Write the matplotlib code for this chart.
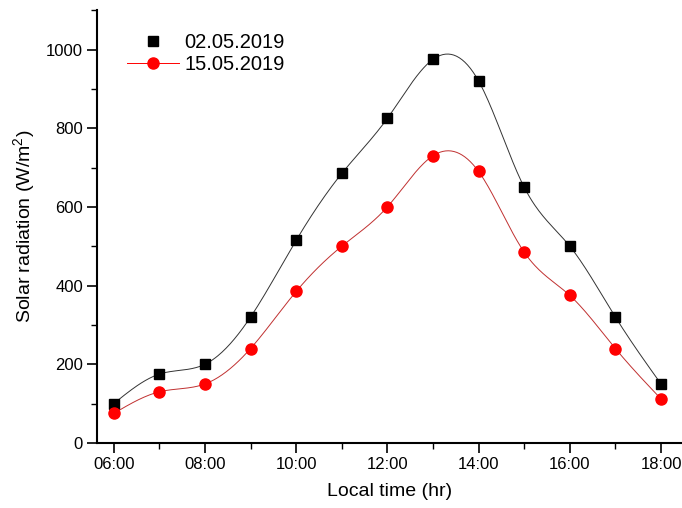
import numpy as np
import matplotlib
matplotlib.use('Agg')
from matplotlib import pyplot as plt
from matplotlib.ticker import MultipleLocator
from matplotlib.lines import Line2D

plt.rcParams['font.family'] = ['Liberation Sans', 'DejaVu Sans']
plt.rcParams['mathtext.fontset'] = 'custom'
plt.rcParams['mathtext.rm'] = 'Liberation Sans'

hours = [6, 7, 8, 9, 10, 11, 12, 13, 14, 15, 16, 17, 18]
tick_labels = ['06:00', '08:00', '10:00', '12:00', '14:00', '16:00', '18:00']
rad_0205 = [100, 175, 200, 320, 515, 685, 825, 975, 920, 650, 500, 320, 150]
rad_1505 = [75, 130, 150, 240, 385, 500, 600, 730, 690, 485, 375, 240, 112]


def spline(x, y, n=400):
    # natural cubic spline, like Origin's spline connector
    x = np.asarray(x, float)
    y = np.asarray(y, float)
    h = np.diff(x)
    m = len(x)
    A = np.zeros((m, m))
    b = np.zeros(m)
    A[0, 0] = A[-1, -1] = 1
    for i in range(1, m - 1):
        A[i, i - 1] = h[i - 1]
        A[i, i] = 2 * (h[i - 1] + h[i])
        A[i, i + 1] = h[i]
        b[i] = 6 * ((y[i + 1] - y[i]) / h[i] - (y[i] - y[i - 1]) / h[i - 1])
    M = np.linalg.solve(A, b)
    xs = np.linspace(x[0], x[-1], n)
    idx = np.clip(np.searchsorted(x, xs) - 1, 0, m - 2)
    x0, x1 = x[idx], x[idx + 1]
    hh = x1 - x0
    ys = (M[idx] * (x1 - xs) ** 3 / (6 * hh) + M[idx + 1] * (xs - x0) ** 3 / (6 * hh)
          + (y[idx] / hh - M[idx] * hh / 6) * (x1 - xs)
          + (y[idx + 1] / hh - M[idx + 1] * hh / 6) * (xs - x0))
    return xs, ys


fig = plt.figure(figsize=(6.82, 5.08), dpi=100)
ax = fig.add_axes([0.142, 0.128, 0.858, 0.852])

xs, ys = spline(hours, rad_0205)
ax.plot(xs, ys, color='#333333', lw=0.7)
ax.plot(hours, rad_0205, 's', color='black', ms=7, label='02.05.2019')

xs, ys = spline(hours, rad_1505)
ax.plot(xs, ys, color='#c03030', lw=0.7)
ax.plot(hours, rad_1505, 'o', color='red', ms=8, label='15.05.2019')

h, l = ax.get_legend_handles_labels()
h = [Line2D([], [], ls='none', marker='s', color='black', ms=7),
     Line2D([], [], ls='-', lw=0.7, marker='o', color='red', ms=8)]
ax.legend(h, l, loc='upper left', bbox_to_anchor=(0.02, 0.99), frameon=False,
          fontsize=14.5, handlelength=2.6, handletextpad=0.25, labelspacing=0.15)

ax.set_xlim(5.63, 18.46)
ax.set_ylim(0, 1100)
ax.set_xticks(hours[::2])
ax.set_xticklabels(tick_labels)
ax.xaxis.set_minor_locator(MultipleLocator(1))
ax.yaxis.set_major_locator(MultipleLocator(200))
ax.yaxis.set_minor_locator(MultipleLocator(100))
ax.tick_params(which='major', direction='out', length=7, width=1.2, labelsize=12, pad=3)
ax.tick_params(which='minor', direction='out', length=4, width=1.0)
for s in ['top', 'right']:
    ax.spines[s].set_visible(False)
for s in ['left', 'bottom']:
    ax.spines[s].set_linewidth(1.5)

ax.set_xlabel('Local time (hr)', fontsize=14, labelpad=8)
ax.set_ylabel('Solar radiation (W/m$^2$)', fontsize=14, labelpad=6)

fig.savefig('out.png', dpi=100)
